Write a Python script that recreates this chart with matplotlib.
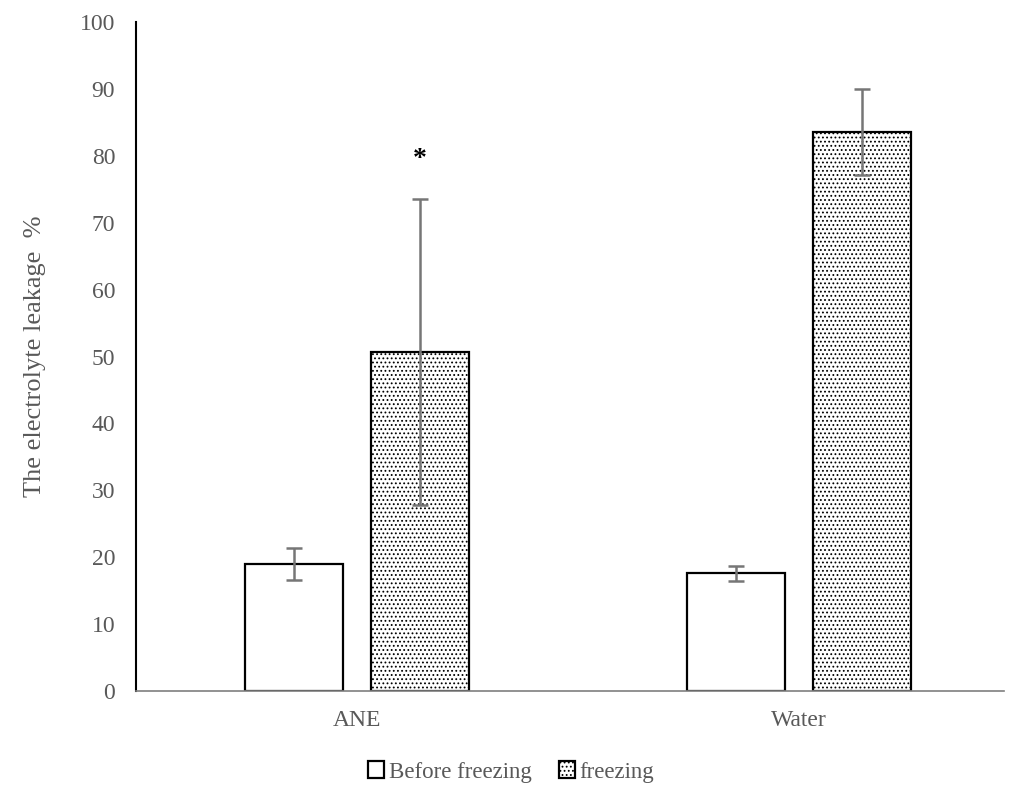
import matplotlib
matplotlib.use('Agg')
import matplotlib.pyplot as plt
import numpy as np

plt.rcParams['font.family'] = ['Liberation Serif', 'DejaVu Serif']
plt.rcParams['hatch.color'] = '#8c8c8c'
plt.rcParams['hatch.linewidth'] = 0.8

categories = ['ANE', 'Water']
before_vals = [19.0, 17.6]
before_err = [2.4, 1.1]
freezing_vals = [50.7, 83.6]
freezing_err = [22.9, 6.4]
series_names = ['Before freezing', 'freezing']
star_text = '*'
star_y = 79.5

grey = '#595959'

fig = plt.figure(figsize=(10.14, 7.94), dpi=100)
ax = fig.add_axes([136 / 1014, 1 - 691 / 794, (1004 - 136) / 1014, (691 - 22) / 794])

x = np.arange(len(categories))
w = 0.222
off = 0.1425
err_kw = dict(ecolor='#767676', elinewidth=1.8, capsize=6, capthick=1.8)

b1 = ax.bar(x - off, before_vals, w, yerr=before_err, color='white',
            edgecolor='black', linewidth=1.6, error_kw=err_kw, label=series_names[0])
b2 = ax.bar(x + off, freezing_vals, w, yerr=freezing_err, color='white',
            edgecolor='black', linewidth=1.6, hatch='....', error_kw=err_kw, label=series_names[1])

ax.text(x[0] + off, star_y, star_text, ha='center', va='center', fontsize=20,
        color='black', fontweight='bold')

ax.set_xlim(-0.5, 1.464)
ax.set_ylim(0, 100)
ax.set_yticks(np.arange(0, 101, 10))
ax.set_xticks(x)
ax.set_xticklabels(categories)
ax.tick_params(axis='both', length=0, labelsize=17, colors=grey)
ax.tick_params(axis='y', pad=15)
ax.tick_params(axis='x', pad=14)

for s in ['top', 'right']:
    ax.spines[s].set_visible(False)
ax.spines['left'].set_color('black')
ax.spines['left'].set_linewidth(1.5)
ax.spines['bottom'].set_color('#7f7f7f')
ax.spines['bottom'].set_linewidth(1.2)

ax.set_ylabel('The electrolyte leakage  %', fontsize=19, color=grey, labelpad=24)

leg = fig.legend(handles=[b1, b2], loc='center', bbox_to_anchor=(0.504, 1 - 772 / 794),
                 ncol=2, frameon=False, fontsize=16.5, handlelength=0.7, handleheight=0.7,
                 handletextpad=0.2, columnspacing=1.2)
for t in leg.get_texts():
    t.set_color(grey)

fig.savefig('out.png', dpi=100)
